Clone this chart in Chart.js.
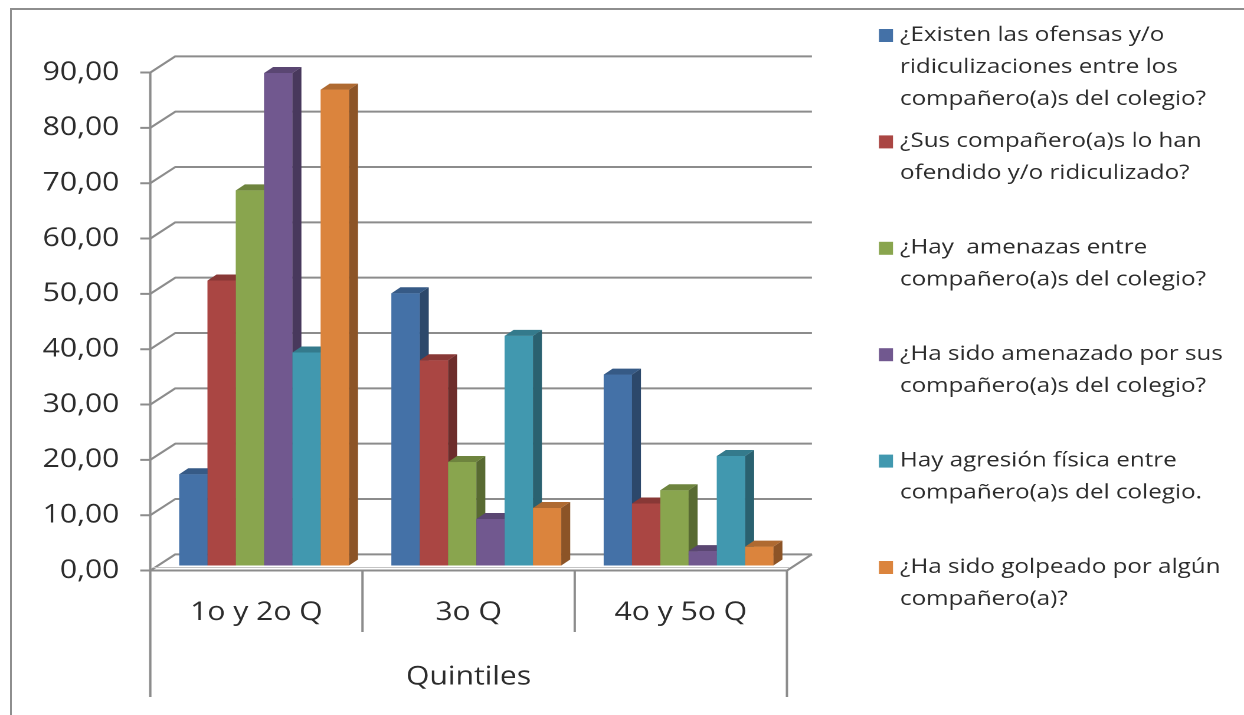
<!DOCTYPE html>
<html lang="es">
<head>
<meta charset="utf-8">
<title>Ofensas, amenazas y agresiones por quintil</title>
<script src="https://cdn.jsdelivr.net/npm/chart.js@4.4.1/dist/chart.umd.min.js"></script>
<style>
  html, body { margin: 0; padding: 0; background: #fff; overflow: hidden; }
  #frame { position: absolute; left: 10px; top: 8px; width: 1300px; height: 800px;
           border: 2px solid #8e8e8e; box-sizing: border-box; }
  /* the chart is laid out on a 1054px-wide stage and widened to the full 1244px */
  #stage { position: absolute; left: 0; top: 0; width: 1054px; height: 715px;
           transform: scaleX(1.18027); transform-origin: 0 0; }
</style>
</head>
<body>
<div id="frame"></div>
<div id="stage"><canvas id="chart"></canvas></div>
<script>
// ---- data ----
const categories = ['1o y 2o Q', '3o Q', '4o y 5o Q'];
const axisTitle = 'Quintiles';
const yTickLabels = ['0,00', '10,00', '20,00', '30,00', '40,00', '50,00', '60,00', '70,00', '80,00', '90,00'];

const existenOfensas   = [16.5, 49.2, 34.5];
const loHanOfendido    = [51.5, 37.1, 11.2];
const hayAmenazas      = [67.8, 18.7, 13.6];
const haSidoAmenazado  = [89.0,  8.4,  2.6];
const agresionFisica   = [38.5, 41.5, 19.8];
const haSidoGolpeado   = [86.0, 10.4,  3.4];

const legendLines = [
  ['¿Existen las ofensas y/o', 'ridiculizaciones entre los', 'compañero(a)s del colegio?'],
  ['¿Sus compañero(a)s lo han', 'ofendido y/o ridiculizado?'],
  ['¿Hay  amenazas entre', 'compañero(a)s del colegio?'],
  ['¿Ha sido amenazado por sus', 'compañero(a)s del colegio?'],
  ['Hay agresión física entre', 'compañero(a)s del colegio.'],
  ['¿Ha sido golpeado por algún', 'compañero(a)?']
];
const seriesValues = [existenOfensas, loHanOfendido, hayAmenazas, haSidoAmenazado, agresionFisica, haSidoGolpeado];
const seriesColors = ['#4471a7', '#aa4643', '#89a54e', '#71588f', '#4198af', '#db843d'];

// ---- look ----
const FONT = 'Open Sans';
const TEXT = '#2c2c2c';
const GRID = '#8c8c8c';
const DX = 21.2, DY = 16.2;   // depth of the 3D box (stage px)
const F = 0.31;               // depth at which the bar fronts stand
const BX = 7.6, BY = 6;       // depth of each bar
const TICK = 8.5;

function shade(hex, k) {
  const n = parseInt(hex.slice(1), 16);
  const r = Math.round(((n >> 16) & 255) * k);
  const g = Math.round(((n >> 8) & 255) * k);
  const b = Math.round((n & 255) * k);
  return `rgb(${r},${g},${b})`;
}

// back wall, side wall, floor and category dividers
const box3d = {
  id: 'box3d',
  beforeDatasetsDraw(chart) {
    const { ctx, chartArea: a, scales: { x, y } } = chart;
    const xl = a.left - F * DX, xr = a.right - F * DX;
    ctx.save();
    ctx.strokeStyle = GRID;
    ctx.lineWidth = 2;
    ctx.lineJoin = 'round';
    y.ticks.forEach(t => {
      const yc = y.getPixelForValue(t.value);
      const fy = yc + F * DY, by = yc - (1 - F) * DY;
      ctx.beginPath();
      ctx.moveTo(xl - TICK, fy);
      ctx.lineTo(xl, fy);
      ctx.lineTo(xl + DX, by);
      ctx.lineTo(xr + DX, by);
      ctx.stroke();
    });
    const y0 = y.getPixelForValue(0);
    const floorFront = y0 + F * DY;
    ctx.beginPath();
    ctx.moveTo(xl, floorFront);
    ctx.lineTo(xr, floorFront);
    ctx.lineTo(xr + DX, y0 - (1 - F) * DY);
    ctx.stroke();
    // thin upper edge of the floor slab
    ctx.strokeStyle = '#c4c4c4';
    ctx.lineWidth = 1;
    ctx.beginPath();
    ctx.moveTo(xl + 2, floorFront - 3);
    ctx.lineTo(xr + 2, floorFront - 3);
    ctx.stroke();
    ctx.strokeStyle = GRID;
    ctx.lineWidth = 2;

    // vertical axis line continuing into the outer category divider
    const yTop = y.getPixelForValue(y.max) + F * DY;
    ctx.beginPath();
    ctx.moveTo(xl, yTop);
    ctx.lineTo(xl, 697);
    ctx.stroke();

    const n = categories.length;
    for (let k = 1; k <= n; k++) {
      const bx = k === n ? a.right : (x.getPixelForValue(k - 1) + x.getPixelForValue(k)) / 2;
      const px = bx - F * DX;
      ctx.beginPath();
      ctx.moveTo(px, floorFront);
      ctx.lineTo(px, k === n ? 697 : 632);
      ctx.stroke();
    }
    ctx.restore();
  },
  // bars redrawn left to right with their side and top faces
  afterDatasetsDraw(chart) {
    const { ctx } = chart;
    const nSets = chart.data.datasets.length;
    ctx.save();
    for (let j = 0; j < categories.length; j++) {
      for (let i = 0; i < nSets; i++) {
        const el = chart.getDatasetMeta(i).data[j];
        const { x, y, base, width } = el.getProps(['x', 'y', 'base', 'width'], true);
        const l = x - width / 2, r = x + width / 2;
        const c = seriesColors[i];
        ctx.fillStyle = c;
        ctx.fillRect(l, y, width, base - y);
        ctx.fillStyle = shade(c, 0.64);
        ctx.beginPath();
        ctx.moveTo(r, y); ctx.lineTo(r + BX, y - BY); ctx.lineTo(r + BX, base - BY); ctx.lineTo(r, base);
        ctx.closePath(); ctx.fill();
        ctx.fillStyle = shade(c, 0.8);
        ctx.beginPath();
        ctx.moveTo(l, y); ctx.lineTo(l + BX, y - BY); ctx.lineTo(r + BX, y - BY); ctx.lineTo(r, y);
        ctx.closePath(); ctx.fill();
      }
    }
    ctx.restore();
  }
};

// axis title centred under the front edge of the floor
const floorTitle = {
  id: 'floorTitle',
  afterDraw(chart) {
    const { ctx, chartArea: a } = chart;
    ctx.save();
    ctx.font = `25.5px "${FONT}"`;
    ctx.fillStyle = TEXT;
    ctx.textAlign = 'center';
    ctx.textBaseline = 'middle';
    ctx.fillText(axisTitle, (a.left + a.right) / 2 - F * DX, 677);
    ctx.restore();
  }
};

// legend on the right, one slot per series
const sideLegend = {
  id: 'sideLegend',
  afterDraw(chart) {
    const { ctx } = chart;
    ctx.save();
    ctx.font = `20.5px "${FONT}"`;
    ctx.textBaseline = 'middle';
    ctx.textAlign = 'left';
    chart.data.datasets.forEach((ds, i) => {
      const cy = 35 + i * 106.4;
      ctx.fillStyle = ds.backgroundColor;
      ctx.fillRect(744.7, cy - 6, 11.9, 13);
      ctx.fillStyle = TEXT;
      legendLines[i].forEach((line, k) => ctx.fillText(line, 762.5, cy + k * 32));
    });
    ctx.restore();
  }
};

const datasets = seriesValues.map((vals, i) => ({
  label: legendLines[i].join(' '),
  data: vals,
  backgroundColor: seriesColors[i],
  borderWidth: 0,
  categoryPercentage: 0.8,
  barPercentage: 1.0
}));

new Chart(document.getElementById('chart'), {
  type: 'bar',
  data: { labels: categories, datasets },
  options: {
    responsive: true,
    maintainAspectRatio: false,
    devicePixelRatio: 2,
    animation: false,
    layout: { padding: { left: 0, top: 67.5, right: 380.7, bottom: 0 } },
    plugins: { legend: { display: false }, tooltip: { enabled: false } },
    scales: {
      y: {
        min: 0, max: 90,
        ticks: {
          stepSize: 10, padding: 32.8, labelOffset: F * DY, color: TEXT,
          font: { family: FONT, size: 25.5 },
          callback: (v, i) => yTickLabels[i]
        },
        grid: { display: false, drawTicks: false },
        border: { display: false },
        afterFit: s => { s.width = 133.9; }
      },
      x: {
        ticks: {
          padding: 32, labelOffset: -F * DX, color: TEXT, maxRotation: 0,
          font: { family: FONT, size: 25.5 }
        },
        grid: { display: false, drawTicks: false },
        border: { display: false },
        title: { display: false, text: axisTitle },
        afterFit: s => { s.height = 149.5; }
      }
    }
  },
  plugins: [box3d, floorTitle, sideLegend]
});
</script>
</body>
</html>
